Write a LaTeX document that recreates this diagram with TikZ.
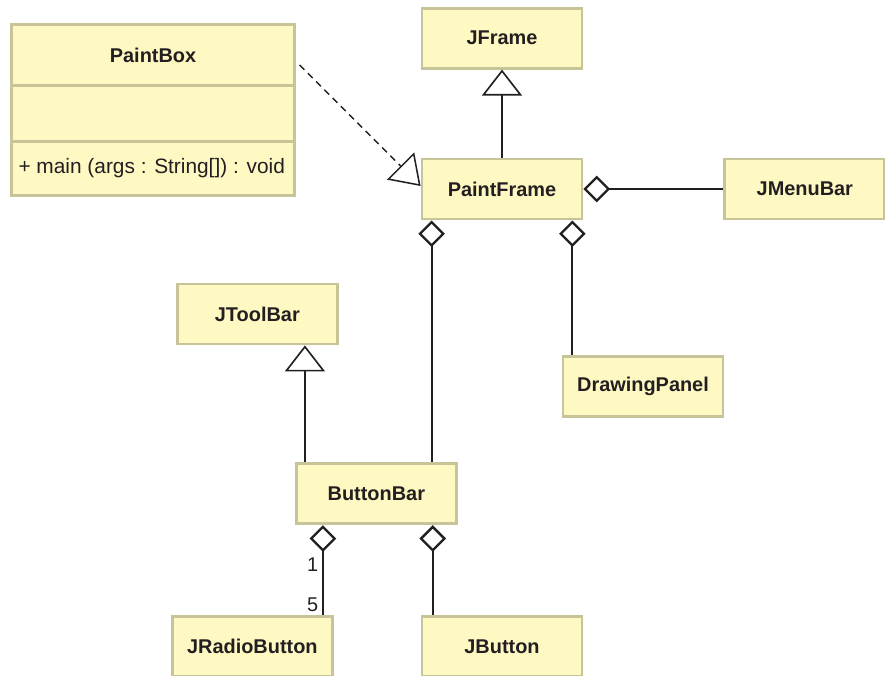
\documentclass[tikz,border=0pt]{standalone}
\usepackage{fontspec}
\setmainfont{Liberation Sans}
\usetikzlibrary{positioning,arrows.meta,shapes.multipart}

\definecolor{classfill}{HTML}{FEF8C3}
\definecolor{classline}{HTML}{C8C49A}
\definecolor{ink}{HTML}{231F20}

\begin{document}
\begin{tikzpicture}[color=ink, line width=1.6pt, font=\fontsize{17}{20}\selectfont,
    class/.style={draw=classline, fill=classfill, line width=2.4pt, text=ink, font=\fontsize{17}{20}\selectfont\bfseries, minimum width=4.8cm, minimum height=1.8cm},
    inherit/.style={-{Triangle[open, length=0.78cm, width=1.2cm, line width=1.4pt]}},
    realize/.style={line width=1.3pt, dash pattern=on 0.2cm off 0.15cm, -{Triangle[open, length=0.85cm, width=1.15cm]}},
    aggr/.style={{Diamond[open, length=0.8cm, width=0.8cm, line width=2pt]}-}]
        \useasboundingbox (0,0) rectangle (26.55,-20.25);

        % Classes
        \node[class] (pframe) at (15.06,-5.67) {PaintFrame};
        \node[class, above=2.64cm of pframe] (jframe) {JFrame};
        \node[class, right=4.2cm of pframe] (menubar) {JMenuBar};
        \node[class, below=4.05cm of pframe, xshift=4.23cm] (panel) {DrawingPanel};
        \node[class, below=7.26cm of pframe, xshift=-3.77cm] (bbar) {ButtonBar};
        \node[class, above=3.51cm of bbar, xshift=-3.57cm] (toolbar) {JToolBar};
        \node[class, below=2.7cm of bbar, xshift=-3.72cm] (radio) {JRadioButton};
        \node[class, below=2.7cm of bbar, xshift=3.77cm] (button) {JButton};
        \node[class, rectangle split, rectangle split parts=3, rectangle split part align={center,center,left},
              minimum width=8.47cm, inner ysep=0pt, inner xsep=0.2cm, left=3.75cm of pframe, yshift=2.37cm] (pbox)
            {\rule[-0.64cm]{0pt}{1.74cm}PaintBox
             \nodepart{second}\rule{0pt}{1.59cm}
             \nodepart{third}\rule[-0.6cm]{0pt}{1.53cm}\mdseries\fontsize{17.8}{20}\selectfont + main (args : String[]) : void};

        % Relations
        \draw[inherit] (pframe) -- (jframe);
        \draw[realize] ([xshift=0.12cm, yshift=1.35cm]pbox.east) -- ([yshift=0.09cm]pframe.west);
        \draw[aggr] (pframe) -- (menubar);
        \coordinate (toPanel) at ([xshift=-0.33cm]pframe.south east);
        \draw[aggr] (toPanel) -- (toPanel |- panel.north);
        \coordinate (toBar) at ([xshift=0.33cm]pframe.south west);
        \draw[aggr] (toBar) -- (toBar |- bbar.north);
        \coordinate (toTool) at ([xshift=0.3cm]bbar.north west);
        \draw[inherit] (toTool) -- (toTool |- toolbar.south);
        \coordinate (toRadio) at ([xshift=0.84cm]bbar.south west);
        \draw[aggr] (toRadio) -- (toRadio |- radio.north) node[pos=0.44, left] {1} node[pos=0.88, left] {5};
        \coordinate (toButton) at ([xshift=-0.75cm]bbar.south east);
        \draw[aggr] (toButton) -- (toButton |- button.north);
    \end{tikzpicture}
\end{document}
